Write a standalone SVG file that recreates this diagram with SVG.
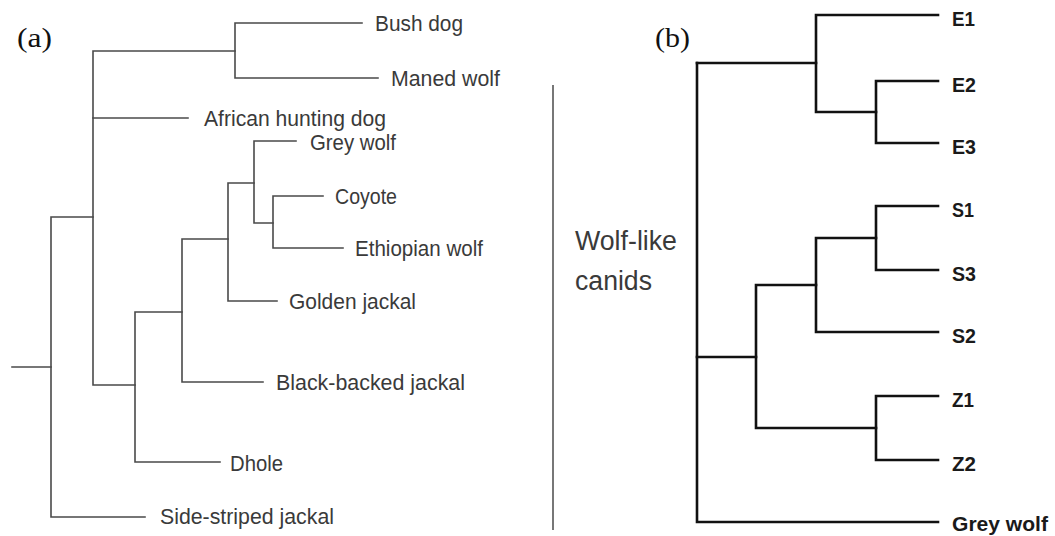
<svg xmlns="http://www.w3.org/2000/svg" width="1055" height="536" viewBox="0 0 1055 536">
  <style>
    .bg { fill: #ffffff; }
    .edge-a { fill: none; stroke: #4a4a4a; stroke-width: 1.6; stroke-linecap: square; }
    .edge-b { fill: none; stroke: #111111; stroke-width: 2.6; stroke-linecap: square; }
    .rule { fill: none; stroke: #555555; stroke-width: 1.6; }
    .panel { font-family: "Liberation Serif", "DejaVu Serif", serif; font-size: 27px; fill: #111111; }
    .leaf-a { font-family: "Liberation Sans", Arial, sans-serif; font-size: 21.5px; fill: #3a3a3a; }
    .leaf-b { font-family: "Liberation Sans", Arial, sans-serif; font-size: 21px; font-weight: bold; fill: #1a1a1a; }
    .group-label { font-family: "Liberation Sans", Arial, sans-serif; font-size: 27px; fill: #3a3a3a; }
  </style>
  <rect class="bg" x="0" y="0" width="1055" height="536"/>

  <!-- panel letters -->
  <text id="label-a" class="panel" x="17" y="47" textLength="35" lengthAdjust="spacingAndGlyphs">(a)</text>
  <text id="label-b" class="panel" x="655" y="47" textLength="35" lengthAdjust="spacingAndGlyphs">(b)</text>

  <!-- tree (a): branches -->
  <g id="connectors-a">
    <path class="edge-a" d="M12,367 H51"/>
    <path class="edge-a" d="M93,217 H51 V517 H145"/>
    <path class="edge-a" d="M235,51 H93 V385 H135"/>
    <path class="edge-a" d="M362,23 H235 V78 H378"/>
    <path class="edge-a" d="M93,118 H188"/>
    <path class="edge-a" d="M296,141 H254 V223 H273"/>
    <path class="edge-a" d="M323,196 H273 V248 H343"/>
    <path class="edge-a" d="M254,183 H228 V301 H277"/>
    <path class="edge-a" d="M228,239 H182 V382 H263"/>
    <path class="edge-a" d="M182,312 H135 V462 H220"/>
  </g>

  <!-- tree (a): taxa -->
  <g id="node-bush-dog"><text class="leaf-a" x="375" y="31" textLength="88" lengthAdjust="spacingAndGlyphs">Bush dog</text></g>
  <g id="node-maned-wolf"><text class="leaf-a" x="391" y="86" textLength="109" lengthAdjust="spacingAndGlyphs">Maned wolf</text></g>
  <g id="node-african-hunting-dog"><text class="leaf-a" x="204" y="126" textLength="182" lengthAdjust="spacingAndGlyphs">African hunting dog</text></g>
  <g id="node-grey-wolf-a"><text class="leaf-a" x="310" y="150" textLength="86" lengthAdjust="spacingAndGlyphs">Grey wolf</text></g>
  <g id="node-coyote"><text class="leaf-a" x="335" y="204" textLength="62" lengthAdjust="spacingAndGlyphs">Coyote</text></g>
  <g id="node-ethiopian-wolf"><text class="leaf-a" x="355" y="256" textLength="128" lengthAdjust="spacingAndGlyphs">Ethiopian wolf</text></g>
  <g id="node-golden-jackal"><text class="leaf-a" x="289" y="309" textLength="127" lengthAdjust="spacingAndGlyphs">Golden jackal</text></g>
  <g id="node-black-backed-jackal"><text class="leaf-a" x="276" y="390" textLength="189" lengthAdjust="spacingAndGlyphs">Black-backed jackal</text></g>
  <g id="node-dhole"><text class="leaf-a" x="230" y="471" textLength="53" lengthAdjust="spacingAndGlyphs">Dhole</text></g>
  <g id="node-side-striped-jackal"><text class="leaf-a" x="160" y="524" textLength="174" lengthAdjust="spacingAndGlyphs">Side-striped jackal</text></g>

  <!-- bracket for the wolf-like group -->
  <g id="node-wolf-like-canids">
    <line class="rule" x1="553" y1="85" x2="553" y2="530"/>
    <text class="group-label" x="575" y="250" textLength="102" lengthAdjust="spacingAndGlyphs">Wolf-like</text>
    <text class="group-label" x="575" y="290" textLength="77" lengthAdjust="spacingAndGlyphs">canids</text>
  </g>

  <!-- tree (b): branches -->
  <g id="connectors-b">
    <path class="edge-b" d="M697,63 V522 H938"/>
    <path class="edge-b" d="M697,63 H816"/>
    <path class="edge-b" d="M938,15 H816 V112 H876"/>
    <path class="edge-b" d="M938,81 H876 V143 H938"/>
    <path class="edge-b" d="M938,206 H876 V270 H938"/>
    <path class="edge-b" d="M876,238 H816 V332 H938"/>
    <path class="edge-b" d="M816,285 H756 V428 H876"/>
    <path class="edge-b" d="M938,396 H876 V460 H938"/>
    <path class="edge-b" d="M697,357 H756"/>
  </g>

  <!-- tree (b): samples -->
  <g id="node-e1"><text class="leaf-b" x="952" y="26" textLength="23" lengthAdjust="spacingAndGlyphs">E1</text></g>
  <g id="node-e2"><text class="leaf-b" x="952" y="92" textLength="24" lengthAdjust="spacingAndGlyphs">E2</text></g>
  <g id="node-e3"><text class="leaf-b" x="952" y="154" textLength="24" lengthAdjust="spacingAndGlyphs">E3</text></g>
  <g id="node-s1"><text class="leaf-b" x="952" y="217" textLength="22" lengthAdjust="spacingAndGlyphs">S1</text></g>
  <g id="node-s3"><text class="leaf-b" x="952" y="281" textLength="24" lengthAdjust="spacingAndGlyphs">S3</text></g>
  <g id="node-s2"><text class="leaf-b" x="952" y="343" textLength="24" lengthAdjust="spacingAndGlyphs">S2</text></g>
  <g id="node-z1"><text class="leaf-b" x="952" y="407" textLength="22" lengthAdjust="spacingAndGlyphs">Z1</text></g>
  <g id="node-z2"><text class="leaf-b" x="952" y="471" textLength="24" lengthAdjust="spacingAndGlyphs">Z2</text></g>
  <g id="node-grey-wolf-b"><text class="leaf-b" x="952" y="531" textLength="96" lengthAdjust="spacingAndGlyphs">Grey wolf</text></g>
</svg>
